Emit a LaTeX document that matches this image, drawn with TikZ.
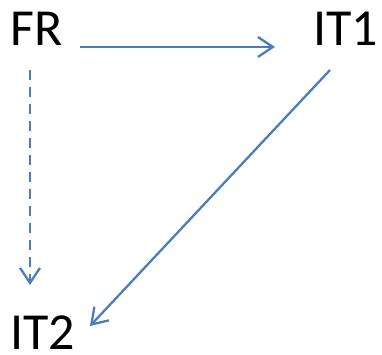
\documentclass[tikz,border=0pt]{standalone}
\usepackage{fontspec}
\setmainfont{Carlito}
\usetikzlibrary{arrows.meta}
\definecolor{linkblue}{HTML}{4A7EBB}
\begin{document}
\begin{tikzpicture}[x=1pt,y=1pt,
  lbl/.style={inner sep=0pt,anchor=base west,text depth=0pt,font=\fontsize{52}{55}\selectfont},
  conn/.style={draw=linkblue,line width=2.3pt,-{Straight Barb[length=15pt,width=20pt,line width=2.3pt]}},
  dashconn/.style={conn,dash pattern=on 10pt off 7pt}]
\useasboundingbox (0,0) rectangle (382,355);
\node[lbl] (FR) at (10,309) {FR};
\node[lbl] (IT1) at (313,309) {IT1};
\node[lbl] (IT2) at (10,5) {IT2};
\coordinate (a1) at (80,308);
\coordinate (a2) at (275,308);
\coordinate (b1) at (30,285);
\coordinate (b2) at (30,70);
\coordinate (c1) at (330,285);
\coordinate (c2) at (90,29);
\draw[conn] (a1) -- (a2);
\draw[dashconn] (b1) -- (b2);
\draw[conn] (c1) -- (c2);
\end{tikzpicture}
\end{document}
